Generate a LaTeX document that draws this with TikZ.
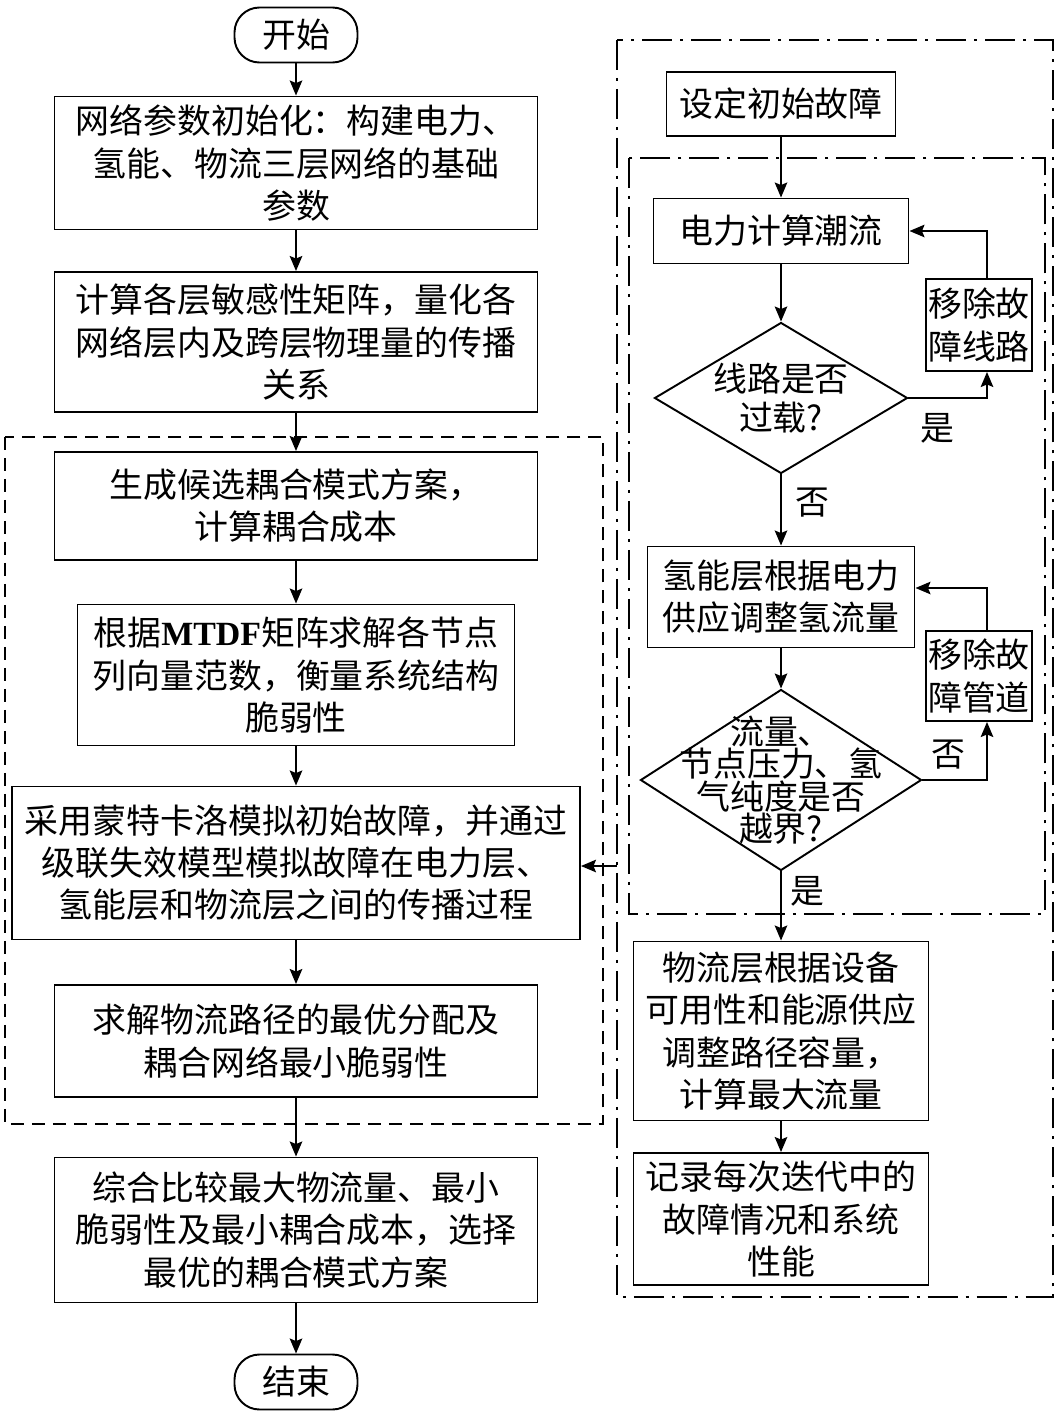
\documentclass[tikz,border=0pt]{standalone}
\usepackage{fontspec}
\setmainfont{Noto Sans CJK SC}
\newfontfamily\timesfont{Liberation Serif}
\usetikzlibrary{shapes.geometric, arrows.meta}
\newcommand\flowfont{\fontsize{19.3}{24}\selectfont}
\newcommand\diafont{\fontsize{19.3}{18.5}\selectfont\lineskiplimit=-30pt}

\begin{document}
\begin{tikzpicture}[x=0.02cm, y=-0.02cm, line width=1.1pt,
  sz/.style 2 args={minimum width=#1*0.02cm, minimum height=#2*0.02cm},
  box/.style={draw, rectangle, align=center, font=\flowfont, inner sep=0pt},
  term/.style={box, rounded corners=0.5cm, sz={123}{55}},
  dia/.style={draw, diamond, inner sep=0pt},
  dtxt/.style={align=center, font=\diafont, inner sep=0pt},
  lab/.style={font=\flowfont, inner sep=0pt},
  arr/.style={-{Stealth[length=0.3cm, width=0.25cm, inset=0.05cm]}},
  dashbox/.style={dash pattern=on 0.26cm off 0.16cm},
  dotbox/.style={dash pattern=on 0.6cm off 0.16cm on 0.06cm off 0.16cm}]
  \useasboundingbox (0,0) rectangle (1059,1417);

  % 左列：主流程
  \node[term] (start) at (296,35) {开始};
  \node[box, sz={483}{133}] (init) at (296,163)
    {网络参数初始化：构建电力、\\氢能、物流三层网络的基础\\参数};
  \node[box, sz={483}{140}] (sens) at (296,342)
    {计算各层敏感性矩阵，量化各\\网络层内及跨层物理量的传播\\关系};
  \node[box, sz={483}{108}] (cand) at (296,506)
    {生成候选耦合模式方案，\\计算耦合成本};
  \node[box, sz={437}{141}] (mtdf) at (296,675)
    {根据{\timesfont\bfseries MTDF}矩阵求解各节点\\列向量范数，衡量系统结构\\脆弱性};
  \node[box, sz={568}{153}] (mc) at (296,863)
    {采用蒙特卡洛模拟初始故障，并通过\\级联失效模型模拟故障在电力层、\\氢能层和物流层之间的传播过程};
  \node[box, sz={483}{112}] (opt) at (296,1041)
    {求解物流路径的最优分配及\\耦合网络最小脆弱性};
  \node[box, sz={483}{145}] (comp) at (296,1230)
    {综合比较最大物流量、最小\\脆弱性及最小耦合成本，选择\\最优的耦合模式方案};
  \node[term] (stop) at (296,1382) {结束};

  % 虚线框
  \draw[dashbox] (5,437) rectangle (603,1124);

  \draw[arr] (start) -- (init);
  \draw[arr] (init) -- (sens);
  \draw[arr] (sens) -- (cand);
  \draw[arr] (cand) -- (mtdf);
  \draw[arr] (mtdf) -- (mc);
  \draw[arr] (mc) -- (opt);
  \draw[arr] (opt) -- (comp);
  \draw[arr] (comp) -- (stop);

  % 右列：级联失效过程
  \node[box, sz={229}{64}] (fault) at (781,104) {设定初始故障};
  \node[box, sz={255}{65}] (pflow) at (781,231) {电力计算潮流};
  \node[dia, sz={253}{151},
        label={[dtxt]center:{线路是否\\[4pt]过载?}}] (over) at (781,398) {};
  \node[box, sz={106}{92}] (rmline) at (979,325) {移除故\\障线路};
  \node[box, sz={267}{101}] (h2) at (781,597) {氢能层根据电力\\供应调整氢流量};
  \node[box, sz={106}{90}] (rmpipe) at (979,676) {移除故\\障管道};
  \node[dia, sz={281}{181},
        label={[dtxt]center:{流量、\\节点压力、氢\\气纯度是否\\越界?}}] (lim) at (781,780) {};
  \node[box, sz={295}{179}] (logi) at (781,1031)
    {物流层根据设备\\可用性和能源供应\\调整路径容量，\\计算最大流量};
  \node[box, sz={295}{132}] (rec) at (781,1219)
    {记录每次迭代中的\\故障情况和系统\\性能};

  % 点划线框
  \draw[dotbox] (617,40) rectangle (1053,1297);
  \draw[dotbox] (629,158) rectangle (1045,914);

  \draw[arr] (fault) -- (pflow);
  \draw[arr] (pflow) -- (over);
  \draw[arr] (over) -- (h2);
  \draw[arr] (h2) -- (lim);
  \draw[arr] (lim) -- (logi);
  \draw[arr] (logi) -- (rec);
  \draw[arr] (over.east) -| ([xshift=0.16cm]rmline.south);
  \draw[arr] ([xshift=0.16cm]rmline.north) |- (pflow.east);
  \draw[arr] (lim.east) -| ([xshift=0.16cm]rmpipe.south);
  \draw[arr] ([xshift=0.16cm]rmpipe.north) |- ([yshift=0.18cm]h2.east);

  \node[lab] (yes1) at (937,428) {是};
  \node[lab] (no1) at (812,503) {否};
  \node[lab] (no2) at (948,755) {否};
  \node[lab] (yes2) at (807,891) {是};

  % 右框指向左侧蒙特卡洛模拟
  \coordinate (outl) at (617,866);
  \draw[arr] (outl) -- (outl -| mc.east);
\end{tikzpicture}
\end{document}
